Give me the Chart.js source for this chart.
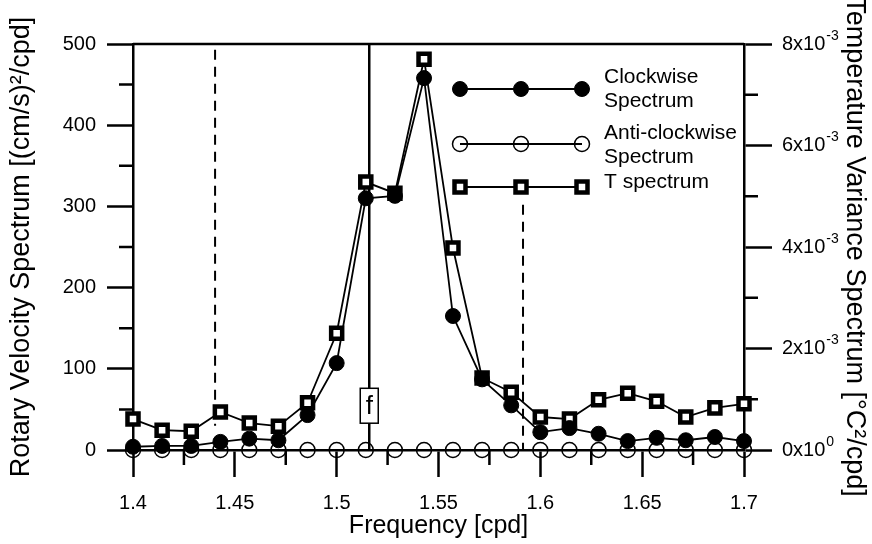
<!DOCTYPE html>
<html lang="en">
<head>
  <meta charset="UTF-8">
  <title>Rotary Velocity and Temperature Variance Spectra</title>
  <script src="https://cdn.jsdelivr.net/npm/chart.js"></script>
  <style>
    body { margin: 0; background: #fff; }
    #wrap { width: 872px; height: 544px; }
  </style>
</head>
<body>
  <div id="wrap"><canvas id="myChart" width="872" height="544"></canvas></div>

  <script>
    // Frequencies of the spectral estimates [cpd]
    let frequency = [1.4, 1.4143, 1.4286, 1.4429, 1.4571, 1.4714, 1.4857, 1.5, 1.5143, 1.5286, 1.5429,
                     1.5571, 1.5714, 1.5857, 1.6, 1.6143, 1.6286, 1.6429, 1.6571, 1.6714, 1.6857, 1.7];

    // Rotary velocity spectra [(cm/s)^2/cpd]
    let clockwise = [4, 5, 5, 10, 14, 12, 43, 107, 310, 313, 458,
                     165, 87, 55, 22, 27, 20, 11, 15, 12, 16, 11];
    let antiClockwise = [0, 0, 0, 0, 0, 0, 0, 0, 0, 0, 0,
                         0, 0, 0, 0, 0, 0, 0, 0, 0, 0, 0];

    // Temperature variance spectrum [degC^2/cpd]
    let tSpectrum = [0.00061, 0.00039, 0.00037, 0.00075, 0.00053, 0.00047, 0.00093, 0.0023, 0.00528, 0.00506, 0.0077,
                     0.00398, 0.00142, 0.00114, 0.00065, 0.00061, 0.00099, 0.00112, 0.00096, 0.00065, 0.00083, 0.00091];

    // Reference frequencies: inertial f and the band limits
    let inertialFreq = 1.516;
    let bandLimits = [1.4403, 1.5915];

    let xTicks = [1.4, 1.45, 1.5, 1.55, 1.6, 1.65, 1.7];
    let rightTicks = [0, 0.002, 0.004, 0.006, 0.008];
    let rightMantissa = ['0x10', '2x10', '4x10', '6x10', '8x10'];
    let rightExponent = ['0', '-3', '-3', '-3', '-3'];

    let toPoints = (ys) => frequency.map((f, i) => ({ x: f, y: ys[i] }));

    let font = 'Liberation Sans, Arial, Helvetica, sans-serif';

    // minor ticks, top frame line, reference lines, the "f" box, right labels and the legend
    let decorations = {
      id: 'decorations',
      beforeDatasetsDraw(chart) {
        let ctx = chart.ctx;
        let area = chart.chartArea;
        let x = chart.scales.x, yL = chart.scales.y, yR = chart.scales.y2;
        ctx.save();
        ctx.strokeStyle = '#000';
        ctx.lineWidth = 2.5;

        // top frame
        ctx.beginPath();
        ctx.moveTo(area.left, area.top);
        ctx.lineTo(area.right, area.top);
        ctx.stroke();

        // minor ticks
        ctx.beginPath();
        for (let v = 50; v < 500; v += 100) {
          let py = yL.getPixelForValue(v);
          ctx.moveTo(area.left - 14, py); ctx.lineTo(area.left, py);
        }
        for (let v = 0.001; v < 0.008; v += 0.002) {
          let py = yR.getPixelForValue(v);
          ctx.moveTo(area.right, py); ctx.lineTo(area.right + 14, py);
        }
        for (let v = 1.425; v < 1.7; v += 0.05) {
          let px = x.getPixelForValue(v);
          ctx.moveTo(px, area.bottom); ctx.lineTo(px, area.bottom + 15);
        }
        ctx.stroke();

        // right axis labels with raised exponents
        ctx.fillStyle = '#000';
        ctx.textAlign = 'left';
        ctx.textBaseline = 'middle';
        rightTicks.forEach((v, i) => {
          let py = yR.getPixelForValue(v);
          let lx = area.right + 38;
          ctx.font = '20px ' + font;
          ctx.fillText(rightMantissa[i], lx, py);
          let w = ctx.measureText(rightMantissa[i]).width;
          ctx.font = '14px ' + font;
          ctx.fillText(rightExponent[i], lx + w + 1, py - 8);
        });

        // inertial frequency line
        let fx = x.getPixelForValue(inertialFreq);
        ctx.lineWidth = 2.5;
        ctx.beginPath();
        ctx.moveTo(fx, area.top); ctx.lineTo(fx, area.bottom);
        ctx.stroke();

        // band limits
        ctx.lineWidth = 2;
        ctx.setLineDash([10, 7]);
        ctx.beginPath();
        let x1 = x.getPixelForValue(bandLimits[0]);
        ctx.moveTo(x1, yL.getPixelForValue(493)); ctx.lineTo(x1, yL.getPixelForValue(30));
        let x2 = x.getPixelForValue(bandLimits[1]);
        ctx.moveTo(x2, yL.getPixelForValue(302)); ctx.lineTo(x2, area.bottom);
        ctx.stroke();
        ctx.restore();
      },
      afterDatasetsDraw(chart) {
        let ctx = chart.ctx;
        let x = chart.scales.x, yL = chart.scales.y;
        ctx.save();

        // "f" label box
        let fx = x.getPixelForValue(inertialFreq);
        let bTop = yL.getPixelForValue(76), bBot = yL.getPixelForValue(33);
        ctx.fillStyle = '#fff';
        ctx.fillRect(fx - 9, bTop, 18, bBot - bTop);
        ctx.strokeStyle = '#000';
        ctx.lineWidth = 1.5;
        ctx.strokeRect(fx - 9, bTop, 18, bBot - bTop);
        ctx.fillStyle = '#000';
        ctx.font = '26px ' + font;
        ctx.textAlign = 'center';
        ctx.textBaseline = 'middle';
        ctx.fillText('f', fx, (bTop + bBot) / 2 + 1);

        // legend
        let lx = [460, 521, 582];
        let rows = [
          { y: 89, style: 'filled', text: ['Clockwise', 'Spectrum'], ty: 83 },
          { y: 144, style: 'open', text: ['Anti-clockwise', 'Spectrum'], ty: 139 },
          { y: 187, style: 'square', text: ['T spectrum'], ty: 188 }
        ];
        rows.forEach(r => {
          ctx.strokeStyle = '#000';
          ctx.lineWidth = 1.8;
          ctx.beginPath();
          ctx.moveTo(lx[0], r.y); ctx.lineTo(lx[2], r.y);
          ctx.stroke();
          lx.forEach(px => {
            ctx.beginPath();
            if (r.style === 'square') {
              ctx.fillStyle = '#fff';
              ctx.lineWidth = 4.5;
              ctx.rect(px - 5.5, r.y - 5.5, 11, 11);
              ctx.fill(); ctx.stroke();
            } else if (r.style === 'filled') {
              ctx.fillStyle = '#000';
              ctx.lineWidth = 1;
              ctx.arc(px, r.y, 7.5, 0, Math.PI * 2);
              ctx.fill(); ctx.stroke();
            } else {
              ctx.lineWidth = 1.5;
              ctx.arc(px, r.y, 7.5, 0, Math.PI * 2);
              ctx.stroke();
            }
          });
          ctx.fillStyle = '#000';
          ctx.font = '21px ' + font;
          ctx.textAlign = 'left';
          ctx.textBaseline = 'alphabetic';
          r.text.forEach((t, k) => ctx.fillText(t, 604, r.ty + k * 24));
        });
        ctx.restore();
      }
    };

    let ctx = document.getElementById('myChart').getContext('2d');

    new Chart(ctx, {
      type: 'line',
      data: {
        datasets: [
          {
            label: 'Clockwise Spectrum',
            data: toPoints(clockwise),
            yAxisID: 'y',
            borderColor: '#000',
            borderWidth: 1.8,
            backgroundColor: '#000',
            pointBackgroundColor: '#000',
            pointBorderColor: '#000',
            pointBorderWidth: 1,
            pointRadius: 7.5,
            pointStyle: 'circle'
          },
          {
            label: 'Anti-clockwise Spectrum',
            data: toPoints(antiClockwise),
            yAxisID: 'y',
            borderColor: '#000',
            borderWidth: 1.5,
            pointBackgroundColor: 'rgba(0,0,0,0)',
            pointBorderColor: '#000',
            pointBorderWidth: 1.5,
            pointRadius: 7.5,
            pointStyle: 'circle'
          },
          {
            label: 'T spectrum',
            data: toPoints(tSpectrum),
            yAxisID: 'y2',
            borderColor: '#000',
            borderWidth: 1.8,
            pointBackgroundColor: '#fff',
            pointBorderColor: '#000',
            pointBorderWidth: 4.5,
            pointRadius: 7.8,
            pointStyle: 'rect'
          }
        ]
      },
      options: {
        responsive: false,
        animation: false,
        layout: { padding: { top: 44, left: 0, right: 0, bottom: 0 } },
        elements: { line: { tension: 0, fill: false } },
        datasets: { line: { clip: false } },
        plugins: {
          legend: { display: false },
          tooltip: { enabled: false }
        },
        scales: {
          x: {
            type: 'linear',
            min: 1.4,
            max: 1.7,
            afterFit: (s) => { s.height = 94; },
            afterBuildTicks: (s) => { s.ticks = xTicks.map(v => ({ value: v })); },
            ticks: {
              color: '#000',
              font: { family: font, size: 20 },
              padding: 14,
              maxRotation: 0,
              callback: (v) => String(+v.toFixed(2))
            },
            grid: { drawOnChartArea: false, tickLength: 27, tickWidth: 2.5, tickColor: '#000' },
            border: { color: '#000', width: 2.5 },
            title: {
              display: true,
              text: 'Frequency [cpd]',
              color: '#000',
              font: { family: font, size: 25 },
              padding: { top: 0, bottom: 3 }
            }
          },
          y: {
            position: 'left',
            min: 0,
            max: 500,
            afterFit: (s) => { s.width = 133; },
            ticks: {
              stepSize: 100,
              color: '#000',
              font: { family: font, size: 20 },
              padding: 11
            },
            grid: { drawOnChartArea: false, tickLength: 26, tickWidth: 2.5, tickColor: '#000' },
            border: { color: '#000', width: 2.5 },
            title: {
              display: true,
              text: 'Rotary Velocity Spectrum [(cm/s)\u00B2/cpd]',
              color: '#000',
              font: { family: font, size: 27 },
              padding: { top: 5, bottom: 0 }
            }
          },
          y2: {
            position: 'right',
            min: 0,
            max: 0.008,
            afterFit: (s) => { s.width = 128; },
            afterBuildTicks: (s) => { s.ticks = rightTicks.map(v => ({ value: v })); },
            ticks: { display: false },
            grid: { drawOnChartArea: false, tickLength: 28, tickWidth: 2.5, tickColor: '#000' },
            border: { color: '#000', width: 2.5 },
            title: {
              display: true,
              text: 'Temperature Variance Spectrum [\u00B0C\u00B2/cpd]',
              color: '#000',
              font: { family: font, size: 27 },
              padding: { top: 1, bottom: 0 }
            }
          }
        }
      },
      plugins: [decorations]
    });
  </script>
</body>
</html>
